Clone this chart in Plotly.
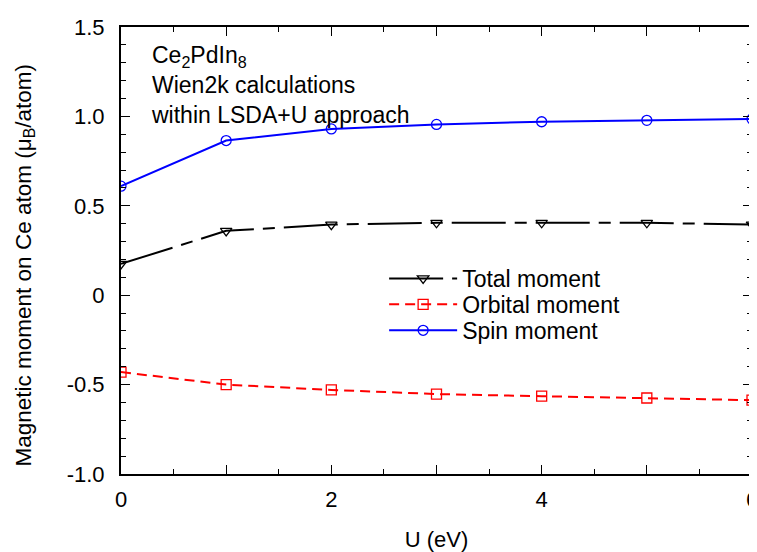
import plotly.graph_objects as go

U = [0, 1, 2, 3, 4, 5, 6]
total_moment = [0.175, 0.36, 0.395, 0.405, 0.405, 0.405, 0.395]
orbital_moment = [-0.43, -0.50, -0.53, -0.553, -0.565, -0.575, -0.587]
spin_moment = [0.61, 0.865, 0.93, 0.955, 0.97, 0.978, 0.985]

x_tickvals = [0, 1, 2, 3, 4, 5, 6]
x_ticktext = ["0", "", "2", "", "4", "", "6"]
y_tickvals = [-1.0, -0.5, 0, 0.5, 1.0, 1.5]
y_ticktext = ["-1.0", "-0.5", "0", "0.5", "1.0", "1.5"]

FONT = "Liberation Sans, Arial, sans-serif"

fig = go.Figure()
fig.add_trace(go.Scatter(
    x=U, y=total_moment, name="Total moment", mode="lines+markers", legend="legend",
    line=dict(color="black", width=2, dash="54px,9px,12px,9px"),
    marker=dict(symbol="triangle-down-open", size=10, color="black", line=dict(width=1.3)),
))
fig.add_trace(go.Scatter(
    x=U, y=orbital_moment, name="Orbital moment", mode="lines+markers", legend="legend2",
    line=dict(color="#ff0000", width=2, dash="10px,6px"),
    marker=dict(symbol="square-open", size=10, color="#ff0000", line=dict(width=1.3)),
))
fig.add_trace(go.Scatter(
    x=U, y=spin_moment, name="Spin moment", mode="lines+markers", legend="legend3",
    line=dict(color="#0000ff", width=2),
    marker=dict(symbol="circle-open", size=10, color="#0000ff", line=dict(width=1.3)),
))

fig.add_annotation(
    x=0, y=1, xref="paper", yref="paper", xanchor="left", yanchor="top",
    xshift=28, yshift=-13, align="left", showarrow=False,
    text="Ce<sub>2</sub>PdIn<sub>8</sub><br>Wien2k calculations<br>within LSDA+U approach",
    font=dict(family=FONT, size=23, color="black"),
)
fig.add_annotation(
    x=0, y=0.4665, xref="paper", yref="paper", xanchor="center", yanchor="middle",
    xshift=-96, textangle=-90, showarrow=False,
    text="Magnetic moment on Ce atom (μ<sub>B</sub>/atom)",
    font=dict(family=FONT, size=22.5, color="black"),
)

leg_common = dict(
    xanchor="left", yanchor="middle", bgcolor="rgba(0,0,0,0)",
    font=dict(family=FONT, size=23), itemwidth=68, borderwidth=0,
)

fig.update_layout(
    width=757, height=552,
    margin=dict(l=113, r=7, t=18, b=86),
    paper_bgcolor="white", plot_bgcolor="white",
    font=dict(family=FONT, size=22, color="black"),
    showlegend=True,
    legend=dict(x=0.417, y=0.4375, **leg_common),
    legend2=dict(x=0.417, y=0.3795, **leg_common),
    legend3=dict(x=0.417, y=0.3214, **leg_common),
    xaxis=dict(
        range=[0, 6], tickmode="array", tickvals=x_tickvals, ticktext=x_ticktext,
        ticks="inside", ticklen=9, tickwidth=1.3, tickcolor="black",
        minor=dict(dtick=0.5, ticklen=5, tickwidth=1.3, tickcolor="black", ticks="inside"),
        showline=True, linecolor="black", linewidth=2, mirror="allticks",
        showgrid=False, zeroline=False, ticklabelstandoff=5,
        title=dict(text="U (eV)", font=dict(family=FONT, size=22), standoff=20),
        tickfont=dict(family=FONT, size=22),
    ),
    yaxis=dict(
        range=[-1.0, 1.5], tickmode="array", tickvals=y_tickvals, ticktext=y_ticktext,
        ticks="inside", ticklen=9, tickwidth=1.3, tickcolor="black",
        minor=dict(dtick=0.1, ticklen=5, tickwidth=1.3, tickcolor="black", ticks="inside"),
        showline=True, linecolor="black", linewidth=2, mirror="allticks",
        showgrid=False, zeroline=False, ticklabelstandoff=10,
        tickfont=dict(family=FONT, size=22),
    ),
)

fig.write_html("out.html", config={"responsive": False})
